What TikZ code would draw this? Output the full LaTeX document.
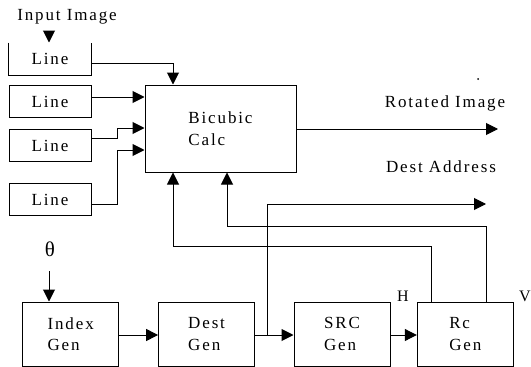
\documentclass[tikz,border=0pt]{standalone}
\usepackage{fontspec}
\setmainfont{Liberation Serif}[LetterSpace=11]
\usetikzlibrary{arrows.meta}
\begin{document}
\begin{tikzpicture}[x=1pt,y=-1pt,
  txt/.style={font=\fontsize{17}{21.5}\selectfont, inner sep=0pt},
  box/.style={draw, line width=1pt, inner sep=0pt, align=left, font=\fontsize{17}{21.5}\selectfont},
  linebox/.style={box, minimum width=82pt, minimum height=32pt},
  genbox/.style={box, minimum width=96pt, minimum height=64pt},
  arr/.style={line width=1pt, -{Triangle[length=12pt,width=12pt]}},
  wire/.style={line width=1pt}]
\useasboundingbox (0,0) rectangle (531,367);
% labels
\node[txt] (input) at (67,17) {Input Image};
\node[txt] (rotl) at (445,103) {Rotated Image};
\node[txt] (dal) at (441,167) {Dest Address};
\node[font=\fontsize{21}{24}\selectfont, inner sep=0pt] (theta) at (50,249) {θ};
\node[font=\fontsize{16}{19}\selectfont, inner sep=0pt] (hl) at (403,296) {H};
\node[font=\fontsize{16}{19}\selectfont, inner sep=0pt] (vl) at (525,296) {V};
\fill (478,79) circle (1pt);
% line boxes
\node[linebox, draw=none] (l1) at (50,59) {Line};
\draw[wire] (l1.north west) -- (l1.south west) -- (l1.south east) -- (l1.north east);
\node[linebox] (l2) at (50,101.5) {Line};
\node[linebox] (l3) at (50,145.5) {Line};
\node[linebox] (l4) at (50,199.5) {Line};
% bicubic
\node[box, minimum width=151pt, minimum height=87pt] (bic) at (220.5,128.5) {Bicubic\\Calc};
% gen boxes
\node[genbox] (idx) at (70.7,334) {Index\\Gen};
\node[genbox] (dest) at (206.6,334) {Dest\\Gen};
\node[genbox] (src) at (342,334) {SRC\\Gen};
\node[genbox] (rc) at (465.3,334) {Rc\\Gen};
% coordinates
\coordinate (inA) at (49,31);
\coordinate (thA) at (49,271);
\coordinate (ro) at (498,129);
\coordinate (br) at (267,335);
\coordinate (da) at (486,204);
% connectors
\draw[arr] (inA) -- (l1.north -| inA);
\draw[arr] (l1.east |- 0,63) -| (bic.north -| 173,0);
\draw[arr] (l2.east |- 0,97) -- (bic.west |- 0,97);
\draw[arr] (l3.east |- 0,138) -- (117,138) -- (117,128) -- (bic.west |- 0,128);
\draw[arr] (l4.east |- 0,204) -- (117,204) -- (117,150) -- (bic.west |- 0,150);
\draw[arr] (bic.east |- ro) -- (ro);
\draw[arr] (thA) -- (idx.north -| thA);
\draw[arr] (idx.east |- br) -- (dest.west |- br);
\draw[arr] (dest.east |- br) -- (src.west |- br);
\draw[arr] (src.east |- br) -- (rc.west |- br);
\draw[arr] (br) |- (da);
\draw[arr] (rc.north -| 431,0) |- (173,246) -- (bic.south -| 173,0);
\draw[arr] (rc.north -| 486,0) |- (227,226) -- (bic.south -| 227,0);
\end{tikzpicture}
\end{document}
